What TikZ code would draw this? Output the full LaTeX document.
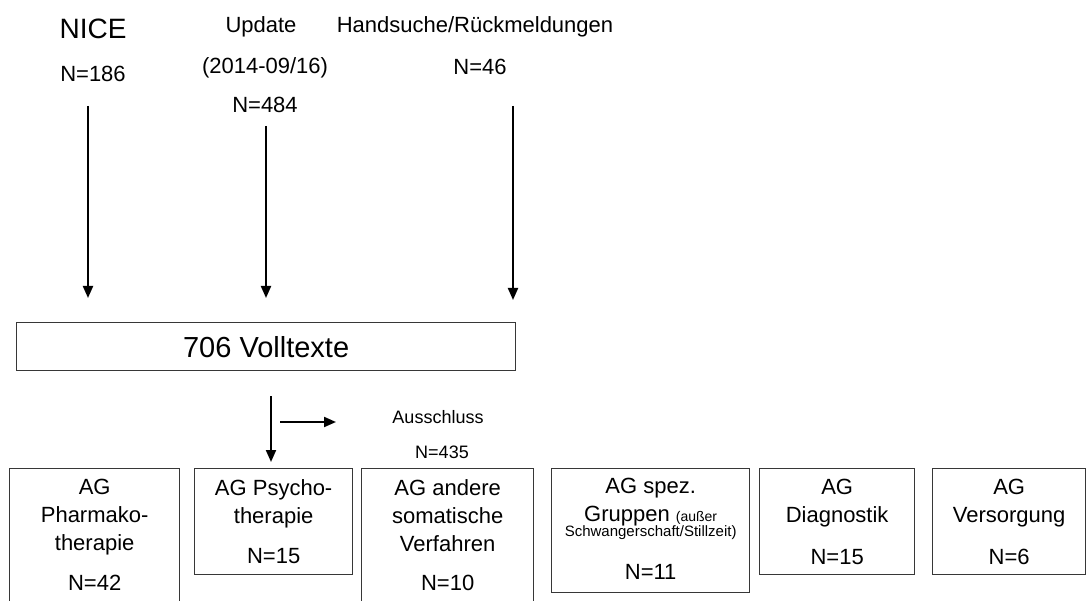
\documentclass[tikz,border=0pt]{standalone}
\usepackage{fontspec}
\setmainfont{Liberation Sans}
\usetikzlibrary{arrows.meta}
\definecolor{boxgray}{RGB}{55,55,55}
\begin{document}
\begin{tikzpicture}[x=1pt,y=-1pt,
  box/.style={draw=boxgray, line width=1.3pt, inner sep=0pt, anchor=north west},
  lbl/.style={font=\fontsize{22}{28}\selectfont, align=center, inner sep=0pt},
  title/.style={lbl, anchor=north},
  count/.style={lbl, anchor=base},
  arr/.style={line width=2pt, -{Triangle[length=12pt,width=10pt]}}]
\useasboundingbox (0,0) rectangle (1086,601);
\clip (0,0) rectangle (1086,601);

% top labels
\node[inner sep=0pt, anchor=base, font=\fontsize{28}{32}\selectfont] (nice) at (93,39) {NICE};
\node[count] (n186) at (93,82) {N=186};
\node[count] (upd) at (261,33) {Update};
\node[count] (updd) at (265,74) {(2014-09/16)};
\node[count] (n484) at (265,113) {N=484};
\node[count] (hand) at (475,33) {Handsuche/Rückmeldungen};
\node[count] (n46) at (480,75) {N=46};

% full texts box
\node[box, minimum width=499pt, minimum height=48pt] (vt) at (16,322) {};
\node[inner sep=0pt, font=\fontsize{29}{34}\selectfont] (vtl) at (vt.center) {706 Volltexte};

% arrows into box
\coordinate (a1) at (88,106);
\coordinate (a2) at (266,126);
\coordinate (a3) at (513,106);
\draw[arr, shorten >=24pt] (a1) -- (a1 |- vt.north);
\draw[arr, shorten >=24pt] (a2) -- (a2 |- vt.north);
\draw[arr, shorten >=22pt] (a3) -- (a3 |- vt.north);

% exclusion
\node[inner sep=0pt, anchor=base, font=\fontsize{18}{22}\selectfont] (aus) at (438,423) {Ausschluss};
\node[inner sep=0pt, anchor=base, font=\fontsize{18}{22}\selectfont] (n435) at (442,458) {N=435};
\coordinate (b1) at (271,396);
\coordinate (h1) at (280,422);
\coordinate (h2) at (336,422);
\draw[arr] (h1) -- (h2);

% group boxes
\node[box, minimum width=170pt, minimum height=150pt] (ph) at (9,468) {};
\node[box, minimum width=158pt, minimum height=106pt] (ps) at (194,468) {};
\node[box, minimum width=172pt, minimum height=150pt] (an) at (361,468) {};
\node[box, minimum width=198pt, minimum height=124pt] (sp) at (551,468) {};
\node[box, minimum width=155pt, minimum height=106pt] (di) at (759,468) {};
\node[box, minimum width=153pt, minimum height=106pt] (ve) at (932,468) {};

\draw[arr, shorten >=6pt] (b1) -- (b1 |- ps.north);

\node[title] (pht) at (ph.north |- 0,479) {AG\\Pharmako-\\therapie};
\node[count] (phn) at (ph.north |- 0,590) {N=42};
\node[title] (pst) at (ps.north |- 0,479) {AG Psycho-\\therapie};
\node[count] (psn) at (ps.north |- 0,563) {N=15};
\node[title] (ant) at (an.north |- 0,479) {AG andere\\somatische\\Verfahren};
\node[count] (ann) at (an.north |- 0,590) {N=10};
\node[title] (spt) at (sp.north |- 0,478) {AG spez.\\Gruppen {\fontsize{14}{16}\selectfont (außer}};
\node[inner sep=0pt, anchor=base, font=\fontsize{15}{17}\selectfont] (sps) at (sp.north |- 0,536) {Schwangerschaft/Stillzeit)};
\node[count] (spn) at (sp.north |- 0,579) {N=11};
\node[title] (dit) at (di.north |- 0,479) {AG\\Diagnostik};
\node[count] (din) at (di.north |- 0,564) {N=15};
\node[title] (vet) at (ve.north |- 0,479) {AG\\Versorgung};
\node[count] (ven) at (ve.north |- 0,564) {N=6};
\end{tikzpicture}
\end{document}
